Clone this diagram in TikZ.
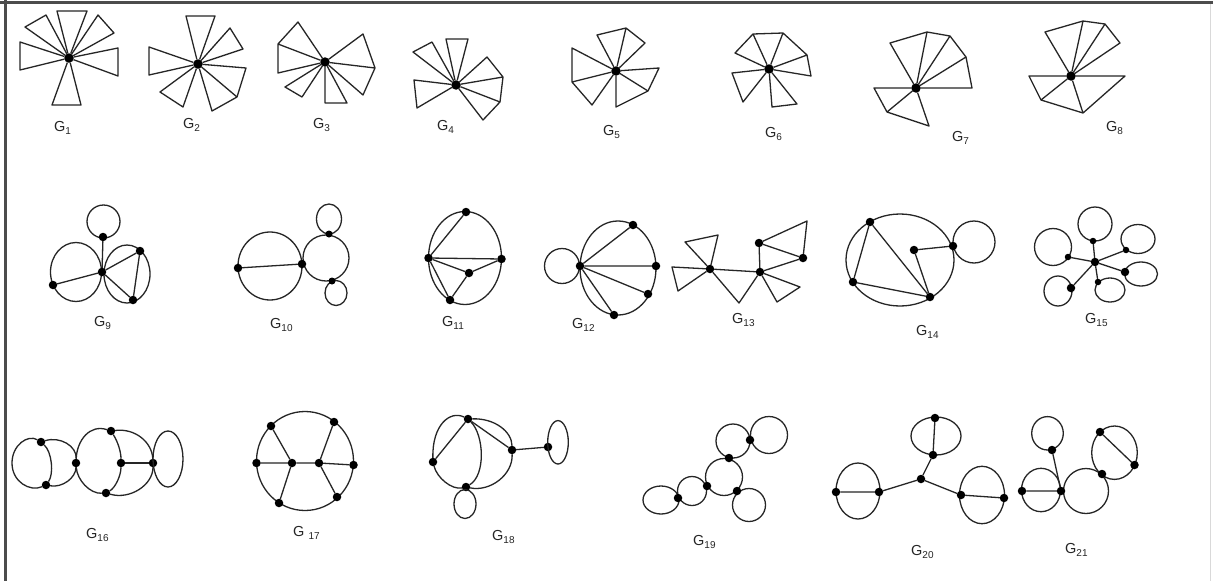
\documentclass[tikz,border=0pt]{standalone}
\usepackage{fontspec}
\setmainfont{Liberation Sans}
\newcommand\glab[1]{G\raisebox{-2.8pt}{\fontsize{10}{11}\selectfont #1}}
\tikzset{
 v/.style={circle,fill=black,inner sep=0pt,minimum size=8.5pt,outer sep=0pt},
 hub/.style={v,minimum size=9.5pt},
 lbl/.style={anchor=west,inner sep=0pt,text=black!85,font=\fontsize{14.5}{15}\selectfont},
 lp/.style={line width=1.3pt,draw=black!85,line join=round},
 frame/.style={line width=3pt,draw=black!70},
}
\begin{document}
\begin{tikzpicture}[x=1pt,y=-1pt]
\useasboundingbox (0,0) rectangle (1213,581);
\fill[white] (0,0) rectangle (1213,581);
\draw[frame] (0,2.5) -- (1213,2.5);
\draw[frame] (5.5,0) -- (5.5,581);
\draw[black!15,line width=1pt] (1210.5,4) -- (1210.5,581);

% ---------- G1
\node[hub] (h1) at (69,58) {};
\path (57,11) coordinate (g1a) (87,11) coordinate (g1b) (25,27) coordinate (g1c) (46,15) coordinate (g1d)
 (98,15) coordinate (g1e) (114,33) coordinate (g1f) (20,42) coordinate (g1g) (20,70) coordinate (g1h)
 (118,48) coordinate (g1i) (118,76) coordinate (g1j) (52,105) coordinate (g1k) (81,105) coordinate (g1l);
\draw[lp] (h1) -- (g1a) -- (g1b) -- (h1);
\draw[lp] (h1) -- (g1c) -- (g1d) -- (h1);
\draw[lp] (h1) -- (g1e) -- (g1f) -- (h1);
\draw[lp] (h1) -- (g1g) -- (g1h) -- (h1);
\draw[lp] (h1) -- (g1i) -- (g1j) -- (h1);
\draw[lp] (h1) -- (g1k) -- (g1l) -- (h1);
\node[lbl] (l1) at (54,128) {\glab{1}};

% ---------- G2
\node[hub] (h2) at (198,64) {};
\path (186,16) coordinate (g2a) (215,16) coordinate (g2b) (230,28) coordinate (g2c) (243,49) coordinate (g2d)
 (149,47) coordinate (g2e) (149,75) coordinate (g2f) (246,68) coordinate (g2g) (237,97) coordinate (g2h)
 (212,111) coordinate (g2i) (160,92) coordinate (g2j) (183,107) coordinate (g2k);
\draw[lp] (h2) -- (g2a) -- (g2b) -- (h2);
\draw[lp] (h2) -- (g2c) -- (g2d) -- (h2);
\draw[lp] (h2) -- (g2e) -- (g2f) -- (h2);
\draw[lp] (h2) -- (g2g) -- (g2h) -- (g2i) -- (h2) (h2) -- (g2h);
\draw[lp] (h2) -- (g2j) -- (g2k) -- (h2);
\node[lbl] (l2) at (183,125) {\glab{2}};

% ---------- G3
\node[hub] (h3) at (325,62) {};
\path (298,22) coordinate (g3a) (278,44) coordinate (g3b) (278,73) coordinate (g3c)
 (363,34) coordinate (g3d) (375,68) coordinate (g3e) (363,95) coordinate (g3f)
 (285,87) coordinate (g3g) (302,97) coordinate (g3h) (325,103) coordinate (g3i) (347,103) coordinate (g3j);
\draw[lp] (h3) -- (g3a) -- (g3b) -- (g3c) -- (h3) (h3) -- (g3b);
\draw[lp] (h3) -- (g3d) -- (g3e) -- (g3f) -- (h3) (h3) -- (g3e);
\draw[lp] (h3) -- (g3g) -- (g3h) -- (h3);
\draw[lp] (h3) -- (g3i) -- (g3j) -- (h3);
\node[lbl] (l3) at (313,125) {\glab{3}};

% ---------- G4
\node[hub] (h4) at (456,85) {};
\path (413,52) coordinate (g4a) (432,42) coordinate (g4b) (446,39) coordinate (g4c) (468,39) coordinate (g4d)
 (487,57) coordinate (g4e) (503,77) coordinate (g4f) (500,102) coordinate (g4g) (483,120) coordinate (g4h)
 (414,80) coordinate (g4i) (417,108) coordinate (g4j);
\draw[lp] (h4) -- (g4a) -- (g4b) -- (h4);
\draw[lp] (h4) -- (g4c) -- (g4d) -- (h4);
\draw[lp] (h4) -- (g4e) -- (g4f) -- (g4g) -- (g4h) -- (h4) (h4) -- (g4f) (h4) -- (g4g);
\draw[lp] (h4) -- (g4i) -- (g4j) -- (h4);
\node[lbl] (l4) at (437,127) {\glab{4}};

% ---------- G5
\node[hub] (h5) at (616,71) {};
\path (597,35) coordinate (g5a) (626,28) coordinate (g5b) (645,43) coordinate (g5c)
 (572,48) coordinate (g5d) (572,82) coordinate (g5e) (592,105) coordinate (g5f)
 (659,68) coordinate (g5g) (648,91) coordinate (g5h) (616,107) coordinate (g5i);
\draw[lp] (h5) -- (g5a) -- (g5b) -- (g5c) -- (h5) (h5) -- (g5b);
\draw[lp] (h5) -- (g5d) -- (g5e) -- (g5f) -- (h5) (h5) -- (g5e);
\draw[lp] (h5) -- (g5g) -- (g5h) -- (g5i) -- (h5) (h5) -- (g5h);
\node[lbl] (l5) at (603,132) {\glab{5}};

% ---------- G6
\node[hub] (h6) at (769,69) {};
\path (735,53) coordinate (g6a) (753,34) coordinate (g6b) (783,33) coordinate (g6c) (807,55) coordinate (g6d)
 (811,76) coordinate (g6e) (732,73) coordinate (g6f) (743,102) coordinate (g6g)
 (772,107) coordinate (g6h) (797,104) coordinate (g6i);
\draw[lp] (h6) -- (g6a) -- (g6b) -- (g6c) -- (g6d) -- (g6e) -- (h6) (h6) -- (g6b) (h6) -- (g6c) (h6) -- (g6d);
\draw[lp] (h6) -- (g6f) -- (g6g) -- (h6);
\draw[lp] (h6) -- (g6h) -- (g6i) -- (h6);
\node[lbl] (l6) at (765,134) {\glab{6}};

% ---------- G7
\node[hub] (h7) at (916,88) {};
\path (890,43) coordinate (g7a) (927,32) coordinate (g7b) (950,36) coordinate (g7c) (966,57) coordinate (g7d)
 (972,88) coordinate (g7e) (874,88) coordinate (g7f) (887,112) coordinate (g7g) (929,126) coordinate (g7h);
\draw[lp] (h7) -- (g7a) -- (g7b) -- (g7c) -- (g7d) -- (g7e) -- (h7) (h7) -- (g7b) (h7) -- (g7c) (h7) -- (g7d);
\draw[lp] (h7) -- (g7f) -- (g7g) -- (g7h) -- (h7) (h7) -- (g7g);
\node[lbl] (l7) at (952,138) {\glab{7}};

% ---------- G8
\node[hub] (h8) at (1071,76) {};
\path (1045,32) coordinate (g8a) (1083,21) coordinate (g8b) (1105,24) coordinate (g8c) (1120,43) coordinate (g8d)
 (1125,76) coordinate (g8e) (1083,113) coordinate (g8f) (1041,100) coordinate (g8g) (1029,76) coordinate (g8h);
\draw[lp] (h8) -- (g8a) -- (g8b) -- (g8c) -- (g8d) -- (h8) (h8) -- (g8b) (h8) -- (g8c);
\draw[lp] (h8) -- (g8e) -- (g8f) -- (g8g) -- (g8h) -- (h8) (h8) -- (g8f) (h8) -- (g8g);
\node[lbl] (l8) at (1106,128) {\glab{8}};

% ---------- G9
\draw[lp] (76,272) ellipse [x radius=25.5pt, y radius=29.5pt];
\draw[lp] (127,274) ellipse [x radius=23pt, y radius=29pt];
\draw[lp] (103.5,221.5) circle [radius=16.5pt];
\node[v] (c9) at (102,272) {};
\node[v] (t9) at (103,237) {};
\node[v] (w9) at (53,285) {};
\node[v] (p9) at (140,251) {};
\node[v] (q9) at (133,300) {};
\draw[lp] (c9) -- (t9) (c9) -- (w9) (c9) -- (p9) (c9) -- (q9) (p9) -- (q9);
\node[lbl] (l9) at (94,323) {\glab{9}};

% ---------- G10
\draw[lp] (270,266) ellipse [x radius=32pt, y radius=34pt];
\draw[lp] (326,258) circle [radius=23pt];
\draw[lp] (329,219) ellipse [x radius=12.5pt, y radius=15pt];
\draw[lp] (336,293) ellipse [x radius=11pt, y radius=12.5pt];
\node[v] (a10) at (238,268) {};
\node[v] (b10) at (302,264) {};
\node[v,minimum size=7pt] (t10) at (329,234) {};
\node[v,minimum size=7pt] (u10) at (332,281) {};
\draw[lp] (a10) -- (b10);
\node[lbl] (l10) at (270,325) {\glab{10}};

% ---------- G11
\draw[lp] (465,258) ellipse [x radius=36.5pt, y radius=46.5pt];
\node[v] (t11) at (466,212) {};
\node[v] (w11) at (428.5,258) {};
\node[v] (e11) at (501.5,259) {};
\node[v] (i11) at (469,273) {};
\node[v] (b11) at (450,300) {};
\draw[lp] (w11) -- (t11) (w11) -- (e11) (w11) -- (i11) (i11) -- (e11) (i11) -- (b11) (w11) -- (b11);
\node[lbl] (l11) at (442,323) {\glab{11}};

% ---------- G12
\draw[lp] (618,268) ellipse [x radius=38pt, y radius=47pt];
\draw[lp] (562,266) circle [radius=17.5pt];
\node[v] (w12) at (580,266) {};
\node[v] (a12) at (633,225) {};
\node[v] (e12) at (656,266) {};
\node[v] (c12) at (648,294) {};
\node[v] (b12) at (614,315) {};
\draw[lp] (w12) -- (a12) (w12) -- (e12) (w12) -- (c12) (w12) -- (b12);
\node[lbl] (l12) at (572,325) {\glab{12}};

% ---------- G13
\node[v] (a13) at (710,269) {};
\node[v] (b13) at (760,272) {};
\node[v] (c13) at (759,243) {};
\node[v] (d13) at (803,258) {};
\path (685,242) coordinate (g13a) (718,235) coordinate (g13b) (672,267) coordinate (g13c) (678,291) coordinate (g13d)
 (739,303) coordinate (g13e) (777,302) coordinate (g13f) (800,287) coordinate (g13g) (807,221) coordinate (g13h);
\draw[lp] (a13) -- (g13a) -- (g13b) -- (a13);
\draw[lp] (a13) -- (g13c) -- (g13d) -- (a13);
\draw[lp] (a13) -- (g13e) -- (b13) -- (a13);
\draw[lp] (b13) -- (g13f) -- (g13g) -- (b13);
\draw[lp] (c13) -- (b13) -- (d13) -- (c13);
\draw[lp] (c13) -- (g13h) -- (d13);
\node[lbl] (l13) at (732,320) {\glab{13}};

% ---------- G14
\draw[lp] (900,260) ellipse [x radius=54pt, y radius=46pt];
\draw[lp] (974,242) circle [radius=21pt];
\node[v] (t14) at (870,222) {};
\node[v] (w14) at (853,282) {};
\node[v] (b14) at (930,297) {};
\node[v] (i14) at (914,250) {};
\node[v] (e14) at (953,246) {};
\draw[lp] (t14) -- (w14) -- (b14) -- (t14) (i14) -- (b14) (i14) -- (e14);
\node[lbl] (l14) at (916,332) {\glab{14}};

% ---------- G15
\draw[lp] (1095,224) circle [radius=17pt];
\draw[lp] (1053,247) circle [radius=18.5pt];
\draw[lp] (1138,239) ellipse [x radius=17pt, y radius=14.5pt];
\draw[lp] (1141,274) ellipse [x radius=16.5pt, y radius=12pt];
\draw[lp] (1110,290) ellipse [x radius=15pt, y radius=12pt];
\draw[lp] (1058,291) ellipse [x radius=14pt, y radius=15pt];
\node[v] (c15) at (1095,262) {};
\node[v,minimum size=6.5pt] (t15) at (1093,241) {};
\node[v,minimum size=6.5pt] (a15) at (1068,257) {};
\node[v,minimum size=6.5pt] (b15) at (1126,250) {};
\node[v] (e15) at (1125,272) {};
\node[v,minimum size=6.5pt] (d15) at (1098,282) {};
\node[v] (f15) at (1071,288) {};
\draw[lp] (c15) -- (t15) (c15) -- (a15) (c15) -- (b15) (c15) -- (e15) (c15) -- (d15) (c15) -- (f15);
\node[lbl] (l15) at (1085,320) {\glab{15}};

% ---------- G16
\node[v] (p16) at (41,442) {};
\node[v] (q16) at (46,485) {};
\node[v] (m16) at (76,463) {};
\node[v] (t16) at (111,431) {};
\node[v] (c16) at (121,463) {};
\node[v] (b16) at (106,493) {};
\node[v] (r16) at (153,463) {};
\draw[lp] (p16) .. controls (28,434) and (12,445) .. (12,463) .. controls (12,482) and (30,492) .. (q16);
\draw[lp] (p16) .. controls (52,452) and (54,474) .. (q16);
\draw[lp] (p16) .. controls (60,436) and (77,446) .. (m16);
\draw[lp] (q16) .. controls (62,488) and (76,478) .. (m16);
\draw[lp] (m16) .. controls (77,440) and (90,424) .. (t16);
\draw[lp] (t16) .. controls (135,428) and (152,442) .. (r16);
\draw[lp] (r16) .. controls (153,485) and (130,500) .. (b16);
\draw[lp] (b16) .. controls (90,494) and (77,480) .. (m16);
\draw[lp] (t16) .. controls (118,442) and (121,452) .. (c16) .. controls (121,476) and (115,488) .. (b16);
\draw[lp] (c16) -- (r16);
\draw[lp] (168,459) ellipse [x radius=15pt, y radius=28pt];
\node[lbl] (l16) at (86,535) {\glab{16}};

% ---------- G17
\draw[lp] (305,461) ellipse [x radius=48.5pt, y radius=49.5pt];
\node[v] (a17) at (271,426) {};
\node[v] (b17) at (334,422) {};
\node[v] (w17) at (256.5,463) {};
\node[v] (e17) at (353.5,465) {};
\node[v] (c17) at (279,503) {};
\node[v] (d17) at (337,497) {};
\node[v] (i17) at (292,463) {};
\node[v] (j17) at (319,463) {};
\draw[lp] (w17) -- (i17) -- (j17) -- (e17) (i17) -- (a17) (i17) -- (c17) (j17) -- (b17) (j17) -- (d17);
\node[lbl] (l17) at (293,533) {G\ \raisebox{-2.8pt}{\fontsize{10}{11}\selectfont 17}};

% ---------- G18
\node[v] (t18) at (468,419) {};
\node[v] (w18) at (433,462) {};
\node[v] (b18) at (466,487) {};
\node[v] (r18) at (512,450) {};
\node[v] (f18) at (548,447) {};
\draw[lp] (t18) .. controls (450,410) and (432,425) .. (w18);
\draw[lp] (w18) .. controls (437,478) and (452,490) .. (b18);
\draw[lp] (t18) .. controls (495,418) and (512,432) .. (r18);
\draw[lp] (r18) .. controls (513,475) and (490,492) .. (b18);
\draw[lp] (t18) .. controls (484,435) and (486,475) .. (b18);
\draw[lp] (t18) -- (w18) (t18) -- (r18) (r18) -- (f18);
\draw[lp] (558,442.3) ellipse [x radius=10.3pt, y radius=21.7pt];
\draw[lp] (465,504) ellipse [x radius=11pt, y radius=14.5pt];
\node[lbl] (l18) at (492,537) {\glab{18}};

% ---------- G19
\draw[lp] (724,477) circle [radius=18.5pt];
\draw[lp] (733,441) circle [radius=17pt];
\draw[lp] (769,435) circle [radius=18.5pt];
\draw[lp] (749,505) circle [radius=16.5pt];
\draw[lp] (692,491) circle [radius=14.5pt];
\draw[lp] (661,500) ellipse [x radius=18pt, y radius=14pt];
\node[v] (a19) at (750,440) {};
\node[v] (b19) at (729,458) {};
\node[v] (c19) at (707,486) {};
\node[v] (d19) at (737,491) {};
\node[v] (e19) at (678,498) {};
\node[lbl] (l19) at (693,542) {\glab{19}};

% ---------- G20
\draw[lp] (936,436) ellipse [x radius=25pt, y radius=19pt];
\draw[lp] (858,491) ellipse [x radius=22pt, y radius=28pt];
\draw[lp] (982,495) ellipse [x radius=22.5pt, y radius=28.7pt];
\node[v] (c20) at (921,479) {};
\node[v] (t20) at (935,418) {};
\node[v] (u20) at (933,455) {};
\node[v] (a20) at (836,492) {};
\node[v] (b20) at (879,492) {};
\node[v] (d20) at (961,495) {};
\node[v] (e20) at (1004,498) {};
\draw[lp] (t20) -- (u20) -- (c20) -- (b20) -- (a20) (c20) -- (d20) -- (e20);
\node[lbl] (l20) at (911,552) {\glab{20}};

% ---------- G21
\draw[lp] (1041,490) ellipse [x radius=19.5pt, y radius=21.7pt];
\draw[lp] (1086,491) circle [radius=22.5pt];
\draw[lp] (1047.5,433.3) ellipse [x radius=15.8pt, y radius=16.7pt];
\draw[lp] (1114.5,452.7) ellipse [x radius=22.8pt, y radius=26.7pt];
\node[v] (c21) at (1061,491) {};
\node[v] (w21) at (1022,491) {};
\node[v] (u21) at (1052,450) {};
\node[v] (a21) at (1100,432) {};
\node[v] (b21) at (1134.5,465) {};
\node[v] (d21) at (1102,474) {};
\draw[lp] (w21) -- (c21) -- (u21) (a21) -- (b21);
\node[lbl] (l21) at (1065,550) {\glab{21}};
\end{tikzpicture}
\end{document}
